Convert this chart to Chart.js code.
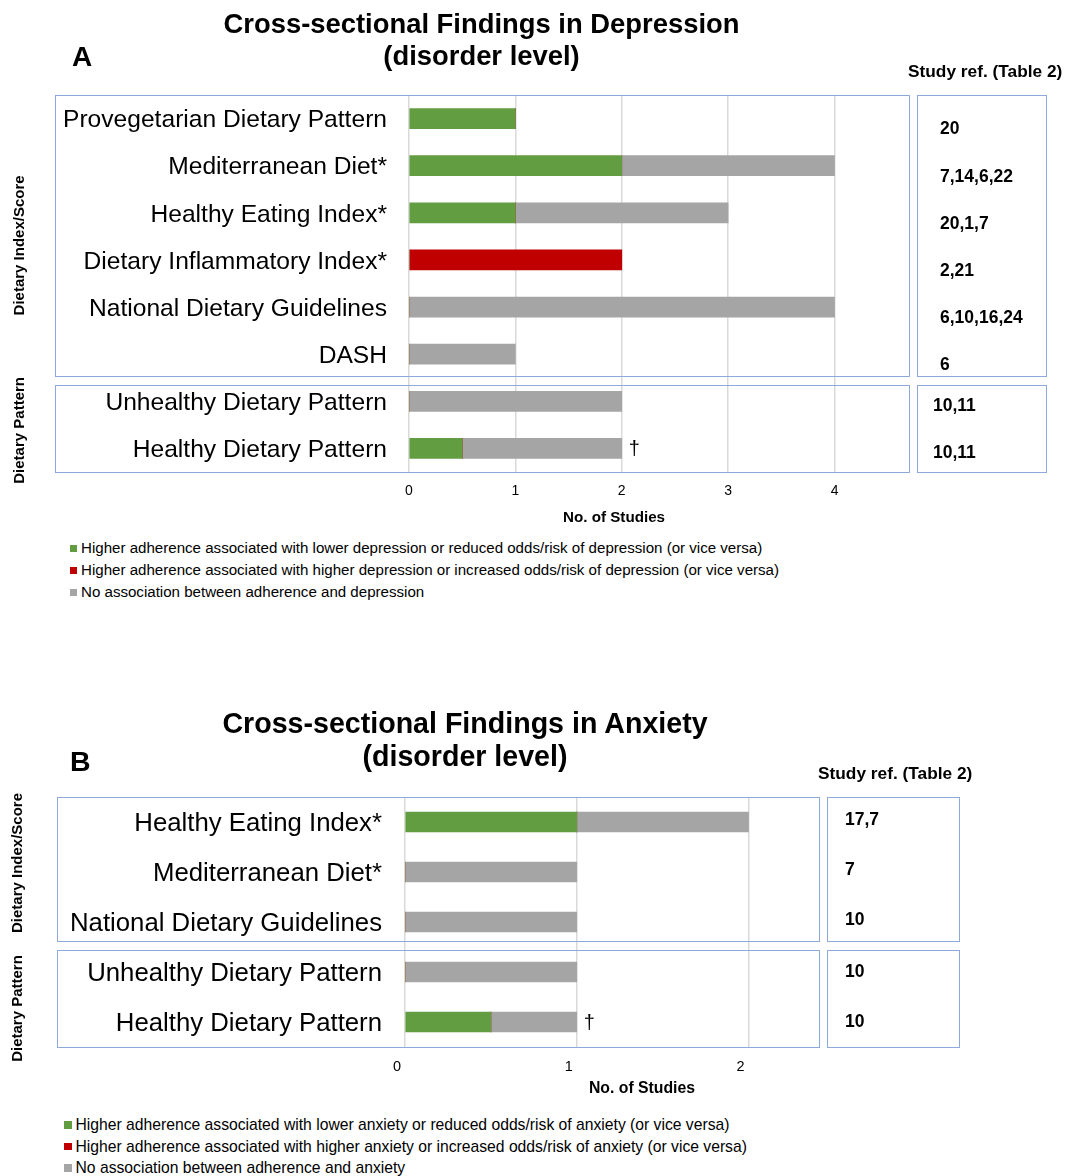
<!DOCTYPE html>
<html><head><meta charset="utf-8">
<script src="https://cdn.jsdelivr.net/npm/chart.js@4.4.0/dist/chart.umd.min.js"></script>
<style>
body{margin:0;width:1067px;height:1176px;position:relative;background:#fff;overflow:hidden;font-family:"Liberation Sans",Arial,sans-serif;color:#000}
.abs{position:absolute;white-space:nowrap}
.b{font-weight:bold}
.title{text-align:center;width:700px}
.leg{position:absolute;white-space:nowrap}
.leg i{position:absolute;display:block}
canvas{position:absolute;left:0}
</style></head><body>
<canvas id="cA" width="1067" height="530" style="top:0"></canvas>
<canvas id="cB" width="1067" height="410" style="top:700px"></canvas>

<div class="abs b title" style="left:131.5px;top:8px;font-size:27.4px;line-height:32px">Cross-sectional Findings in Depression<br>(disorder level)</div>
<div class="abs b" style="left:72px;top:42px;font-size:28px;line-height:30px">A</div>
<div class="abs b" style="left:908px;top:61px;font-size:17.3px;line-height:20px">Study ref. (Table 2)</div>
<div class="abs b" style="left:514px;width:200px;text-align:center;top:507px;font-size:15.2px;line-height:20px">No. of Studies</div>
<div id="legA"></div>

<div class="abs b title" style="left:115px;top:706.5px;font-size:28.6px;line-height:33px">Cross-sectional Findings in Anxiety<br>(disorder level)</div>
<div class="abs b" style="left:70px;top:746px;font-size:28.5px;line-height:30px">B</div>
<div class="abs b" style="left:818px;top:763px;font-size:17.3px;line-height:20px">Study ref. (Table 2)</div>
<div class="abs b" style="left:542px;width:200px;text-align:center;top:1078px;font-size:15.8px;line-height:20px">No. of Studies</div>
<div id="legB"></div>

<script>
// ---------- DATA ----------
const depCategories = ['Provegetarian Dietary Pattern','Mediterranean Diet*','Healthy Eating Index*','Dietary Inflammatory Index*','National Dietary Guidelines','DASH','Unhealthy Dietary Pattern','Healthy Dietary Pattern'];
const depLower  = [1, 2, 1, 0, 0, 0, 0, 0.5];
const depHigher = [0, 0, 0, 2, 0, 0, 0, 0];
const depNone   = [0, 2, 2, 0, 4, 1, 2, 1.5];
const depRefs   = ['20','7,14,6,22','20,1,7','2,21','6,10,16,24','6','10,11','10,11'];
const depDagger = [false,false,false,false,false,false,false,true];
const depGroupLabels = ['Dietary Index/Score','Dietary Pattern'];
const depGroupStarts = [0, 6];
const depTicks = [0,1,2,3,4];
const depLegend = ['Higher adherence associated with lower depression or reduced odds/risk of depression (or vice versa)','Higher adherence associated with higher depression or increased odds/risk of depression (or vice versa)','No association between adherence and depression'];

const anxCategories = ['Healthy Eating Index*','Mediterranean Diet*','National Dietary Guidelines','Unhealthy Dietary Pattern','Healthy Dietary Pattern'];
const anxLower  = [1, 0, 0, 0, 0.5];
const anxHigher = [0, 0, 0, 0, 0];
const anxNone   = [1, 1, 1, 1, 0.5];
const anxRefs   = ['17,7','7','10','10','10'];
const anxDagger = [false,false,false,false,true];
const anxGroupLabels = ['Dietary Index/Score','Dietary Pattern'];
const anxGroupStarts = [0, 3];
const anxTicks = [0,1,2];
const anxLegend = ['Higher adherence associated with lower anxiety or reduced odds/risk of anxiety (or vice versa)','Higher adherence associated with higher anxiety or increased odds/risk of anxiety (or vice versa)','No association between adherence and anxiety'];

// ---------- STYLE ----------
const GREEN = '#639d41', RED = '#c00000', GRAY = '#a5a5a5', BOX = '#8eaadb', GRID = '#d9d9d9';
const FONT = '"Liberation Sans", Arial, sans-serif';
Chart.defaults.font.family = FONT;
Chart.defaults.color = '#000';

function legendHTML(id, texts, st) {
  const el = document.getElementById(id);
  const cols = [GREEN, RED, GRAY];
  texts.forEach((t, i) => {
    const d = document.createElement('div');
    d.className = 'leg';
    d.style.cssText = `left:${st.textLeft}px;top:${st.top + i*st.step - st.lh/2}px;font-size:${st.fs}px;line-height:${st.lh}px`;
    d.textContent = t;
    const m = document.createElement('i');
    m.style.cssText = `left:${st.markLeft - st.textLeft}px;top:${(st.lh - st.mark)/2}px;width:${st.mark}px;height:${st.mark}px;background:${cols[i]}`;
    d.appendChild(m);
    el.appendChild(d);
  });
}
legendHTML('legA', depLegend, {textLeft:81, markLeft:70, top:548, step:22, fs:15.1, lh:20, mark:7});
legendHTML('legB', anxLegend, {textLeft:75.5, markLeft:64, top:1125, step:21.5, fs:15.7, lh:20, mark:7.5});

function decor(p) {
  return {
    id: 'decor',
    afterDraw(chart) {
      const ctx = chart.ctx, ca = chart.chartArea, ys = chart.scales.y, xs = chart.scales.x;
      const n = p.categories.length;
      const half = (ys.getPixelForValue(1) - ys.getPixelForValue(0)) / 2;
      ctx.save();
      p.groupStarts.forEach((s, gi) => {
        const e = gi < p.groupStarts.length - 1 ? p.groupStarts[gi+1] - 1 : n - 1;
        const top = gi === 0 ? ca.top : ys.getPixelForValue(s) - half + p.gapBelow;
        const bottom = e === n - 1 ? ca.bottom : ys.getPixelForValue(e) + half - p.gapAbove;
        const t = Math.round(top) + 0.5, h = Math.round(bottom) - Math.round(top);
        ctx.strokeStyle = BOX; ctx.lineWidth = 1;
        ctx.strokeRect(p.boxLeft + 0.5, t, Math.round(ca.right) - p.boxLeft, h);
        ctx.strokeRect(Math.round(ca.right) + p.refGap + 0.5, t, p.refWidth, h);
        // group label (rotated)
        ctx.save();
        ctx.translate(p.groupX, (top + bottom) / 2 + p.groupDy[gi]);
        ctx.rotate(-Math.PI / 2);
        ctx.font = `bold 15px ${FONT}`; ctx.fillStyle = '#000';
        ctx.textAlign = 'center'; ctx.textBaseline = 'middle';
        ctx.fillText(p.groupLabels[gi], 0, 0);
        ctx.restore();
        // study refs
        ctx.font = `bold 17.5px ${FONT}`; ctx.fillStyle = '#000';
        ctx.textAlign = 'left'; ctx.textBaseline = 'middle';
        for (let i = s; i <= e; i++) {
          ctx.fillText(p.refs[i], Math.round(ca.right) + p.refDx[gi], ys.getPixelForValue(i) + p.refDy[gi]);
        }
      });
      // daggers
      ctx.font = `20px ${FONT}`; ctx.textAlign = 'left'; ctx.textBaseline = 'middle'; ctx.fillStyle = '#000';
      p.dagger.forEach((d, i) => {
        if (!d) return;
        const total = p.series.reduce((a, sr) => a + sr[i], 0);
        ctx.fillText('\u2020', xs.getPixelForValue(total) + 7, ys.getPixelForValue(i) + 1);
      });
      ctx.restore();
    }
  };
}

function makeChart(id, p) {
  return new Chart(document.getElementById(id), {
    type: 'bar',
    data: {
      labels: p.categories,
      datasets: [
        {label: p.legend[0], data: p.series[0], backgroundColor: GREEN, barThickness: 20},
        {label: p.legend[1], data: p.series[1], backgroundColor: RED, barThickness: 20},
        {label: p.legend[2], data: p.series[2], backgroundColor: GRAY, barThickness: 20}
      ]
    },
    options: {
      indexAxis: 'y', responsive: false, animation: false,
      layout: {padding: {top: p.padTop, right: p.padRight, left: 0, bottom: 0}},
      plugins: {legend: {display: false}, title: {display: false}, tooltip: {enabled: false}},
      scales: {
        x: {
          stacked: true, min: 0, max: p.xMax,
          afterBuildTicks: s => { s.ticks = p.ticks.map(v => ({value: v})); },
          grid: {color: GRID, lineWidth: 1.5, drawTicks: false},
          border: {display: false},
          ticks: {font: {size: p.tickFs}, color: '#000', padding: 11, labelOffset: p.labelOffset, maxRotation: 0},
          afterFit: s => { s.height = p.xHeight; }
        },
        y: {
          stacked: true,
          grid: {display: false}, border: {display: false},
          ticks: {font: {size: p.catFs}, color: '#000', padding: p.catPad, autoSkip: false, labelOffset: 2},
          afterFit: s => { s.width = p.yWidth; }
        }
      }
    },
    plugins: [decor(p)]
  });
}

makeChart('cA', {
  categories: depCategories, series: [depLower, depHigher, depNone], legend: depLegend,
  refs: depRefs, dagger: depDagger, groupLabels: depGroupLabels, groupStarts: depGroupStarts, ticks: depTicks,
  xMax: 4.7, padTop: 95, padRight: 158, xHeight: 58, yWidth: 409, catFs: 24.6, catPad: 14, tickFs: 14, labelOffset: 0,
  boxLeft: 55, refGap: 8, refWidth: 129, gapAbove: 2, gapBelow: 7, groupX: 20, groupDy: [10, 2],
  refDx: [31, 24], refDy: [11, 5]
});
makeChart('cB', {
  categories: anxCategories, series: [anxLower, anxHigher, anxNone], legend: anxLegend,
  refs: anxRefs, dagger: anxDagger, groupLabels: anxGroupLabels, groupStarts: anxGroupStarts, ticks: anxTicks,
  xMax: 2.41, padTop: 97, padRight: 248, xHeight: 63, yWidth: 405, catFs: 25.75, catPad: 15, tickFs: 14.5, labelOffset: -8,
  boxLeft: 57, refGap: 8, refWidth: 132, gapAbove: 6, gapBelow: 3, groupX: 18, groupDy: [-6, 10],
  refDx: [26, 26], refDy: [-2, 0]
});
</script>
</body></html>
